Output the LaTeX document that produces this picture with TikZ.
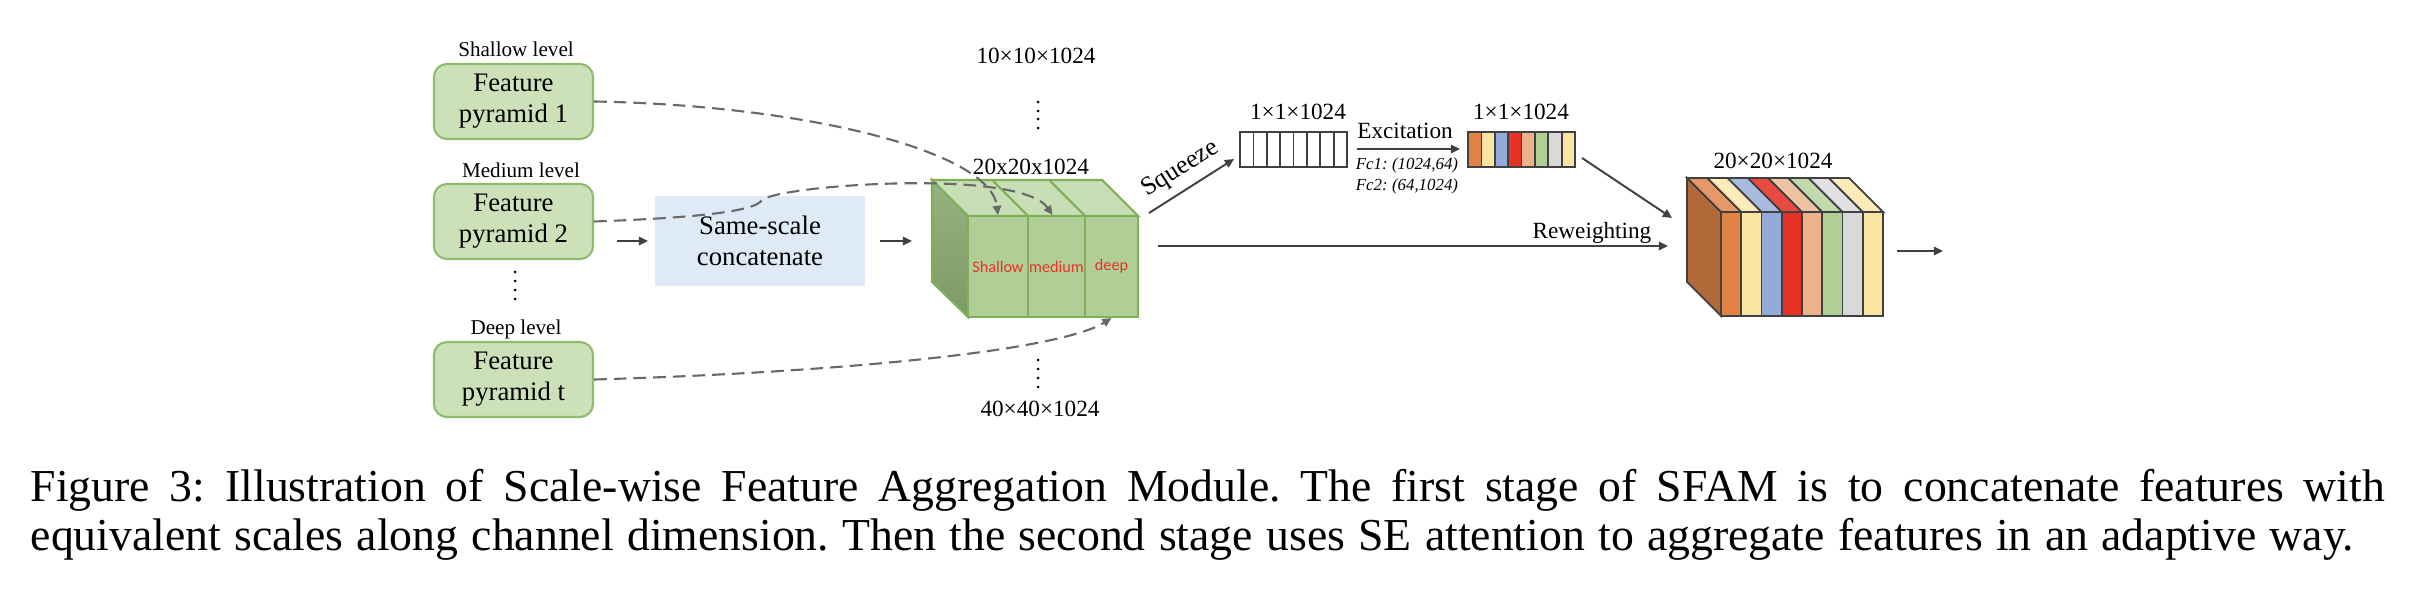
\documentclass[tikz,border=0pt]{standalone}
\usepackage{fontspec}
\setmainfont{Liberation Serif}
\newfontfamily\carl{Carlito}
\usetikzlibrary{arrows.meta}
\frenchspacing
\definecolor{pyrfill}{RGB}{205,225,185}
\definecolor{pyredge}{RGB}{142,187,112}
\definecolor{ssfill}{RGB}{222,234,246}
\definecolor{arrgray}{RGB}{64,64,64}
\definecolor{dashgray}{RGB}{105,105,105}
\definecolor{cubetop}{RGB}{200,222,182}
\definecolor{cubefront}{RGB}{176,206,150}
\definecolor{cubeleftA}{RGB}{150,178,128}
\definecolor{cubeleftB}{RGB}{124,154,102}
\definecolor{cubeedge}{RGB}{126,176,90}
\definecolor{lblred}{RGB}{232,50,40}
\definecolor{oedge}{RGB}{64,64,64}
\definecolor{cA}{RGB}{224,130,68}
\definecolor{cAt}{RGB}{229,152,104}
\definecolor{cB}{RGB}{250,229,162}
\definecolor{cBt}{RGB}{252,235,185}
\definecolor{cC}{RGB}{148,171,217}
\definecolor{cCt}{RGB}{169,188,224}
\definecolor{cD}{RGB}{229,50,36}
\definecolor{cDt}{RGB}{234,74,64}
\definecolor{cE}{RGB}{235,178,139}
\definecolor{cEt}{RGB}{238,195,163}
\definecolor{cF}{RGB}{176,207,150}
\definecolor{cFt}{RGB}{193,218,173}
\definecolor{cG}{RGB}{217,217,217}
\definecolor{cGt}{RGB}{225,225,225}
\definecolor{brownside}{RGB}{178,105,58}
\begin{document}
\begin{tikzpicture}[x=0.01cm,y=-0.01cm,
  pyr/.style={rounded corners=0.13cm, fill=pyrfill, draw=pyredge, line width=0.6pt,
    minimum width=1.59cm, minimum height=0.75cm, align=center, inner sep=0pt,
    font=\fontsize{7.6}{8.8}\selectfont},
  lvl/.style={anchor=base, inner sep=0pt, font=\fontsize{6}{7}\selectfont},
  dim/.style={anchor=base, inner sep=0pt, font=\fontsize{6.6}{7.9}\selectfont},
  ssbox/.style={fill=ssfill, minimum width=2.1cm, minimum height=0.9cm, align=center,
    inner sep=0pt, font=\fontsize{7.6}{8.8}\selectfont},
  sec/.style={draw=cubeedge, fill=cubefront, line width=0.6pt, minimum height=1.01cm,
    inner sep=0pt, text=lblred, font=\carl\fontsize{4.6}{5.5}\selectfont},
  arr/.style={draw=arrgray, line width=0.55pt, -{Triangle[length=2.6pt,width=2.4pt]}},
  dsh/.style={draw=dashgray, line width=0.6pt, dash pattern=on 3.6pt off 2pt,
    -{Triangle[length=2.6pt,width=2.4pt]}},
  vecbox/.style={draw=oedge, line width=0.5pt, minimum width=1.07cm, minimum height=0.35cm, inner sep=0pt},
  dotc/.style={fill=black},
  captxt/.style={anchor=base west, inner sep=0pt, font=\fontsize{13}{15}\selectfont}
]
\useasboundingbox (0,0) rectangle (2418,594);

% ---------- left column ----------
\node[lvl] (l1) at (516,56) {Shallow level};
\node[pyr] (p1) at (513.5,101.5) {Feature\\pyramid 1};
\node[lvl] (l2) at (521,177) {Medium level};
\node[pyr] (p2) at (513.5,221.5) {Feature\\pyramid 2};
\foreach \yy in {272,281,290,299} \fill[dotc] (515,\yy) circle (0.015cm);
\node[lvl] (l3) at (516,334) {Deep level};
\node[pyr] (pt) at (513.5,379.5) {Feature\\pyramid t};

% ---------- same-scale ----------
\node[ssbox] (ss) at (760,241) {Same-scale\\concatenate};
\coordinate (a1s) at (617,241);
\coordinate (a1e) at (648,241);
\draw[arr] (a1s) -- (a1e);
\coordinate (a2s) at (880,241);
\coordinate (a2e) at (912,241);
\draw[arr] (a2s) -- (a2e);

% ---------- green cube ----------
\shade[top color=cubeleftA, bottom color=cubeleftB] (932,180) -- (968,216) -- (968,317) -- (932,282) -- cycle;
\draw[cubeedge, line width=0.6pt] (932,180) -- (968,216) -- (968,317) -- (932,282) -- cycle;
\draw[cubeedge, line width=0.6pt, fill=cubetop] (968,216) -- (932,180) -- (1102,180) -- (1138,216) -- cycle;
\draw[cubeedge, line width=0.6pt] (992,180) -- (1028,216);
\draw[cubeedge, line width=0.6pt] (1049,180) -- (1085,216);
\node[sec, minimum width=0.60cm] (shal) at (998,266.5) {\raisebox{-3pt}{Shallow}};
\node[sec, minimum width=0.57cm] (med) at (1056.5,266.5) {\raisebox{-3pt}{medium}};
\node[sec, minimum width=0.53cm] (deep) at (1111.5,266.5) {\raisebox{-3pt}{deep}};

\node[dim] (d10) at (1036,63) {10×10×1024};
\foreach \yy in {102,111,119,128} \fill[dotc] (1038,\yy) circle (0.015cm);
\node[dim] (d20) at (1031,174) {20x20x1024};
\foreach \yy in {360,369,378,387} \fill[dotc] (1038,\yy) circle (0.015cm);
\node[dim] (d40) at (1040,416) {40×40×1024};

% ---------- dashed connectors ----------
\draw[dsh] (p1.east) .. controls (800,105) and (990,150) .. (shal.north);
\draw[dsh] (p2.east) .. controls (690,218) and (755,212) .. (762,200)
  .. controls (780,185) and (1020,168) .. ([xshift=-0.04cm]med.north);
\draw[dsh] (pt.east) .. controls (850,372) and (1060,350) .. (deep.south);

% ---------- squeeze ----------
\node[vecbox, fill=white] (sq) at (1293.5,149.5) {};
\foreach \i in {1,...,7} \draw[oedge, line width=0.5pt] (1240+\i*13.375,132) -- (1240+\i*13.375,167);
\node[dim] (d1a) at (1298,120) {1×1×1024};
\coordinate (sqs) at (1149,213);
\coordinate (sqe) at (1234,159);
\draw[arr] (sqs) -- node[sloped, above, inner sep=2.2pt, font=\fontsize{7.3}{8.5}\selectfont] {Squeeze} (sqe);

% ---------- excitation ----------
\coordinate (exs) at (1357,149);
\coordinate (exe) at (1460,149);
\draw[arr] (exs) -- (exe);
\node[dim] (exl) at (1405,138) {Excitation};
\node[anchor=base, inner sep=0pt, font=\fontsize{4.8}{6}\selectfont\itshape] (fc1) at (1407,169) {Fc1: (1024,64)};
\node[anchor=base, inner sep=0pt, font=\fontsize{4.8}{6}\selectfont\itshape] (fc2) at (1407,190) {Fc2: (64,1024)};

\foreach \c [count=\i from 0] in {cA,cB,cC,cD,cE,cF,cG,cB}
  \fill[\c] (1468+\i*13.375,132) rectangle (1468+\i*13.375+13.375,167);
\foreach \i in {1,...,7} \draw[oedge, line width=0.5pt] (1468+\i*13.375,132) -- (1468+\i*13.375,167);
\node[vecbox] (cv) at (1521.5,149.5) {};
\node[dim] (d1b) at (1521,120) {1×1×1024};

% ---------- output cube ----------
\fill[brownside] (1687,178) -- (1721,212) -- (1721,316) -- (1687,282) -- cycle;
\draw[oedge, line width=0.5pt] (1687,178) -- (1721,212) -- (1721,316) -- (1687,282) -- cycle;
\foreach \cf/\ct [count=\i from 0] in {cA/cAt,cB/cBt,cC/cCt,cD/cDt,cE/cEt,cF/cFt,cG/cGt,cB/cBt}{
  \pgfmathsetmacro\xa{1721+\i*20.25}
  \pgfmathsetmacro\xb{1721+(\i+1)*20.25}
  \draw[oedge, line width=0.5pt, fill=\cf] (\xa,212) rectangle (\xb,316);
  \draw[oedge, line width=0.5pt, fill=\ct] (\xa,212) -- (\xa-34,178) -- (\xb-34,178) -- (\xb,212) -- cycle;
}
\node[minimum width=1.62cm, minimum height=1.04cm, inner sep=0pt] (oc) at (1802,264) {};
\node[dim] (d20o) at (1773,168) {20×20×1024};

\coordinate (cvs) at (1582,158);
\coordinate (cve) at (1672,218);
\draw[arr] (cvs) -- (cve);
\coordinate (rws) at (1158,246);
\coordinate (rwe) at (1668,246);
\draw[arr] (rws) -- (rwe);
\node[anchor=base east, inner sep=0pt, font=\fontsize{6.6}{7.9}\selectfont] (rwl) at (1652,238) {Reweighting};
\coordinate (fos) at (1897,251);
\coordinate (foe) at (1943,251);
\draw[arr] (fos) -- (foe);

% ---------- caption ----------
\node[captxt] (cap1) at (30,501)
  {\makebox[23.53cm][s]{Figure 3: Illustration of Scale-wise Feature Aggregation Module. The first stage of SFAM is to concatenate features with}};
\node[captxt] (cap2) at (30,550)
  {\makebox[23.22cm][s]{equivalent scales along channel dimension. Then the second stage uses SE attention to aggregate features in an adaptive way.}};
\end{tikzpicture}
\end{document}
